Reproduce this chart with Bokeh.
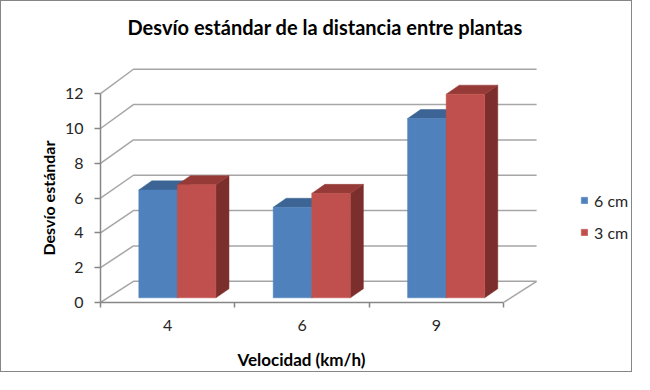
from bokeh.plotting import figure
from bokeh.models import Range1d, FixedTicker, Legend, LegendItem, Title
from bokeh.embed import file_html
from bokeh.resources import INLINE

# ---- data ----
categories = ["4", "6", "9"]
series_names = ["6 cm", "3 cm"]
values_6cm = [6.2, 5.2, 10.3]
values_3cm = [6.5, 6.0, 11.7]
y_ticks = [0, 2, 4, 6, 8, 10, 12]
title_text = "Desvío estándar de la distancia entre plantas"
x_title = "Velocidad (km/h)"
y_title = "Desvío estándar"

# ---- style ----
FRONT = ["#4F81BD", "#C0504D"]
TOP = ["#3C6494", "#963A37"]
SIDE = ["#2E4D73", "#7B2E2C"]
GRID = "#A6A6A6"
AXIS = "#868686"
FONT = "Lato"
DX, DY, BACK_SCALE = 0.245, 1.22, 1.0155   # depth of the floor / walls
GAP, BW, BX, BY = 0.215, 0.287, 0.07, 0.27  # bar placement
DDX, DDY = 0.097, 0.52                      # bar depth
X_END, Y_END = 3.966, 14.77

ncat = len(categories)
W, H = 632, 372
ML, MR, MT, MB = 99, 0, 44, 71
p = figure(width=W, height=H, output_backend="svg", toolbar_location=None,
           x_range=Range1d(0, X_END), y_range=Range1d(0, Y_END),
           min_border_left=ML, min_border_right=MR, min_border_top=MT,
           min_border_bottom=MB)
p.styles = {"border": "1px solid #868686"}
p.outline_line_color = None
p.xgrid.visible = False
p.ygrid.visible = False

# walls / floor grid
gx, gy = [], []
for v in y_ticks:
    yb = v * BACK_SCALE + DY
    gx.append([0, DX, ncat + DX])
    gy.append([v, yb, yb])
gx.append([ncat, ncat + DX])
gy.append([0, DY])
p.multi_line(gx, gy, line_color=GRID, line_width=1.5)

# bars
series_vals = [values_6cm, values_3cm]
front_r = []
for j, vals in enumerate(series_vals):
    x0 = [i + GAP + BX + j * BW for i in range(ncat)]
    x1 = [a + BW for a in x0]
    y0 = [BY] * ncat
    y1 = [BY + v for v in vals]
    side_xs = [[b, b + DDX, b + DDX, b] for b in x1]
    side_ys = [[lo, lo + DDY, hi + DDY, hi] for lo, hi in zip(y0, y1)]
    top_xs = [[a, b, b + DDX, a + DDX] for a, b in zip(x0, x1)]
    top_ys = [[hi, hi, hi + DDY, hi + DDY] for hi in y1]
    p.patches(side_xs, side_ys, fill_color=SIDE[j], line_color=SIDE[j], line_width=0.5)
    p.patches(top_xs, top_ys, fill_color=TOP[j], line_color=TOP[j], line_width=0.5)
    r = p.quad(left=x0, right=x1, bottom=y0, top=y1, fill_color=FRONT[j],
               line_color=FRONT[j], line_width=0.5)
    front_r.append(r)

# axes
p.yaxis.ticker = FixedTicker(ticks=y_ticks)
p.yaxis.bounds = (0, 12)
p.yaxis.axis_line_color = AXIS
p.yaxis.axis_line_width = 1.5
p.yaxis.major_tick_line_color = AXIS
p.yaxis.major_tick_line_width = 1.5
p.yaxis.major_tick_out = 6
p.yaxis.major_tick_in = 0
p.yaxis.minor_tick_line_color = None
p.yaxis.major_label_standoff = 11
p.yaxis.major_label_text_font = FONT
p.yaxis.major_label_text_font_size = "16px"
p.yaxis.major_label_text_color = "#262626"

centers = [i + 0.5 for i in range(ncat)]
p.xaxis.ticker = FixedTicker(ticks=centers, minor_ticks=list(range(ncat + 1)))
p.xaxis.major_label_overrides = {c: lab for c, lab in zip(centers, categories)}
p.xaxis.bounds = (0, ncat)
p.xaxis.axis_line_color = AXIS
p.xaxis.axis_line_width = 1.5
p.xaxis.major_tick_line_color = None
p.xaxis.minor_tick_line_color = AXIS
p.xaxis.minor_tick_line_width = 1.5
p.xaxis.minor_tick_out = 5
p.xaxis.minor_tick_in = 0
p.xaxis.major_label_standoff = 11
p.xaxis.major_label_text_font = FONT
p.xaxis.major_label_text_font_size = "16px"
p.xaxis.major_label_text_color = "#262626"
# blank spacer label: pushes the x title a little lower
p.xaxis.axis_label = " "
p.xaxis.axis_label_text_font_size = "1px"
p.xaxis.axis_label_standoff = 7

# axis titles (placed as side titles so they centre on the 0..12 / 0..3 axis extent)
ytitle = Title(text=y_title, align="left", offset=47, vertical_align="bottom",
               standoff=7, text_font=FONT, text_font_style="bold",
               text_font_size="16px", text_color="#000000")
p.add_layout(ytitle, "left")
xtitle = Title(text=x_title, align="left", offset=137, vertical_align="bottom",
               standoff=4, text_font=FONT, text_font_style="bold",
               text_font_size="17px", text_color="#000000")
p.add_layout(xtitle, "below")

# title
p.title.text = title_text
p.title.align = "left"
p.title.offset = 27
p.title.vertical_align = "top"
p.title.text_font = FONT
p.title.text_font_style = "bold"
p.title.text_font_size = "20px"
p.title.text_color = "#000000"
p.title.standoff = 10

# legend (inside the frame, right of the drawn chart area)
legend = Legend(items=[LegendItem(label=n, renderers=[r]) for n, r in zip(series_names, front_r)],
                location=(480, 60), glyph_width=8, glyph_height=8, label_standoff=6,
                label_height=20, spacing=12, padding=0, margin=0,
                label_text_font=FONT, label_text_font_size="16px",
                label_text_color="#262626", border_line_color=None,
                background_fill_alpha=0)
p.add_layout(legend)

open("out.html", "w").write(file_html(p, INLINE))
